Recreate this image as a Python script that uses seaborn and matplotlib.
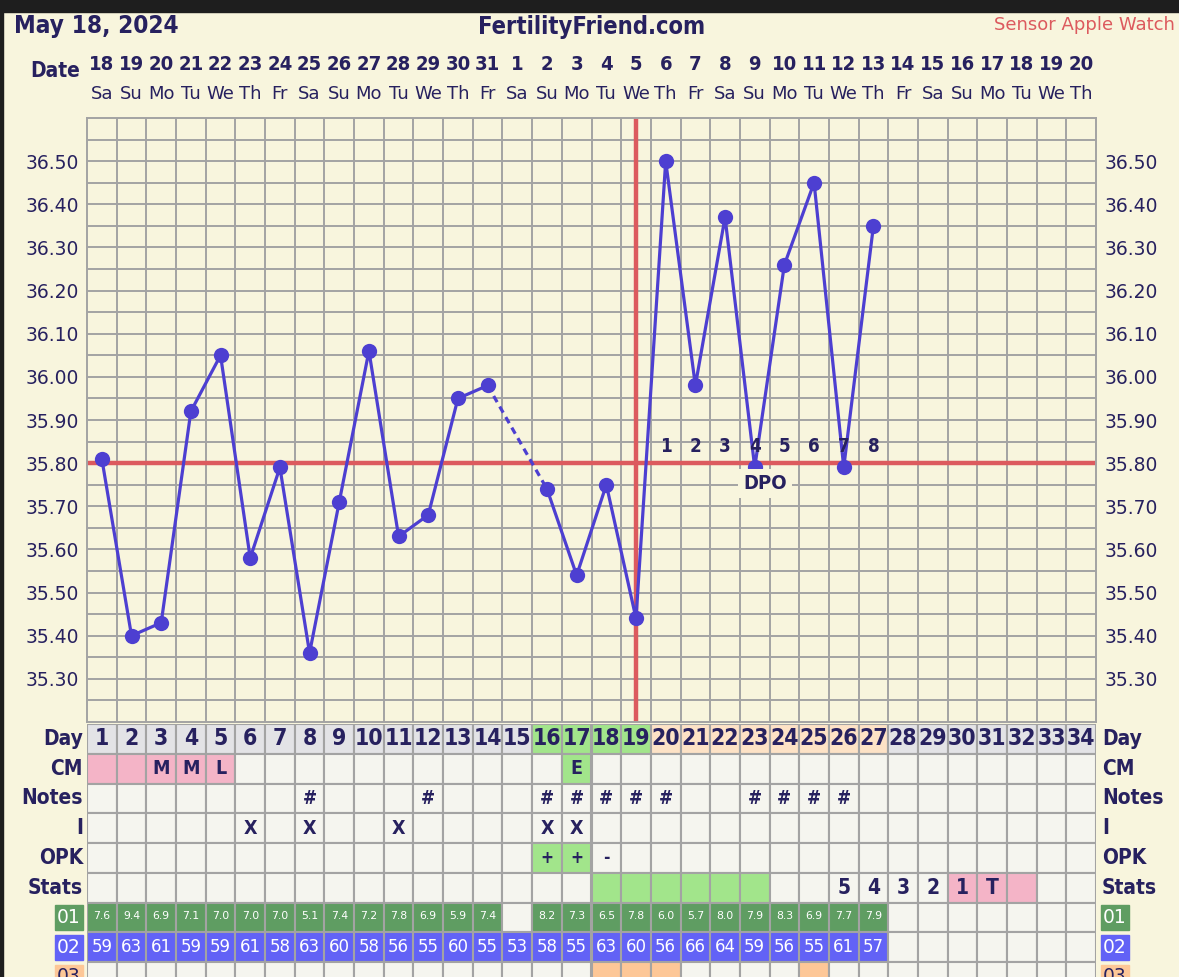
import numpy as np
import pandas as pd
import matplotlib
matplotlib.use("Agg")
import matplotlib.pyplot as plt
import seaborn as sns
from matplotlib import font_manager as fm
from matplotlib.transforms import blended_transform_factory
from matplotlib.patches import Rectangle

# ---------------- data ----------------
dates = [18, 19, 20, 21, 22, 23, 24, 25, 26, 27, 28, 29, 30, 31,
         1, 2, 3, 4, 5, 6, 7, 8, 9, 10, 11, 12, 13, 14, 15, 16, 17, 18, 19, 20]
weekdays = (["Sa", "Su", "Mo", "Tu", "We", "Th", "Fr"] * 5)[:34]
cycle_days = list(range(1, 35))
temp_days = list(range(1, 28))
temps = [35.81, 35.40, 35.43, 35.92, 36.05, 35.58, 35.79, 35.36, 35.71, 36.06,
         35.63, 35.68, 35.95, 35.98, np.nan, 35.74, 35.54, 35.75, 35.44, 36.50,
         35.98, 36.37, 35.79, 36.26, 36.45, 35.79, 36.35]
coverline = 35.80
ovulation_day = 19
dpo_days = [20, 21, 22, 23, 24, 25, 26, 27]
dpo_labels = ["1", "2", "3", "4", "5", "6", "7", "8"]
y_ticks = [35.30, 35.40, 35.50, 35.60, 35.70, 35.80, 35.90, 36.00, 36.10, 36.20, 36.30, 36.40, 36.50]

day_green = [16, 17, 18, 19]
day_peach = [20, 21, 22, 23, 24, 25, 26, 27]
cm_days = [3, 4, 5, 17]
cm_text = ["M", "M", "L", "E"]
cm_pink = [1, 2, 3, 4, 5]
cm_green = [17]
notes_days = [8, 12, 16, 17, 18, 19, 20, 23, 24, 25, 26]
intercourse_days = [6, 8, 11, 16, 17]
opk_days = [16, 17, 18]
opk_text = ["+", "+", "-"]
opk_green = [16, 17]
stats_days = [26, 27, 28, 29, 30, 31]
stats_text = ["5", "4", "3", "2", "1", "T"]
stats_green = [18, 19, 20, 21, 22, 23]
stats_pink = [30, 31, 32]
s01_days = [1, 2, 3, 4, 5, 6, 7, 8, 9, 10, 11, 12, 13, 14, 16, 17, 18, 19, 20,
            21, 22, 23, 24, 25, 26, 27]
s01_vals = ["7.6", "9.4", "6.9", "7.1", "7.0", "7.0", "7.0", "5.1", "7.4", "7.2",
            "7.8", "6.9", "5.9", "7.4", "8.2", "7.3", "6.5", "7.8", "6.0", "5.7",
            "8.0", "7.9", "8.3", "6.9", "7.7", "7.9"]
s02_days = list(range(1, 28))
s02_vals = [59, 63, 61, 59, 59, 61, 58, 63, 60, 58, 56, 55, 60, 55, 53, 58, 55,
            63, 60, 56, 66, 64, 59, 56, 55, 61, 57]
s03_peach = [18, 19, 20, 25]
row_labels = ["Day", "CM", "Notes", "I", "OPK", "Stats", "01", "02", "03"]

# ---------------- style ----------------
W, H = 1179, 977
CREAM = "#f8f5dd"
NAVY = "#27215f"
GRIDC = "#a3a3a3"
LINEC = "#4d3fd1"
RED = "#dc5a5e"
CELL = "#f5f5ef"
DAYGRAY = "#e3e3e6"
LGREEN = "#a2e58b"
PEACH = "#fde2c6"
PINK = "#f4b4c7"
G01 = "#5f9d62"
B02 = "#6262f6"
P03 = "#fdc797"

sns.set_theme(style="white")
plt.rcParams["font.family"] = ["DejaVu Sans"]


def pick_cond():
    for f in fm.fontManager.ttflist:
        if f.name == "DejaVu Sans" and f.stretch in ("condensed", "semi-condensed") and f.weight in ("bold", 700):
            return dict(family="DejaVu Sans", stretch="condensed", weight="bold"), 1.0
    names = {f.name for f in fm.fontManager.ttflist}
    if "Liberation Sans Narrow" in names:
        return dict(family="Liberation Sans Narrow", weight="bold"), 1.08
    return dict(family="DejaVu Sans", weight="bold"), 0.9


COND, CSCALE = pick_cond()


def cfont(size):
    d = dict(COND)
    d["size"] = size * CSCALE
    return d


fig = plt.figure(figsize=(W / 100, H / 100), dpi=100, facecolor=CREAM)


def fx(px):
    return px / W


def fy(py):
    return 1 - py / H


# dark border of the screenshot
fig.add_artist(Rectangle((0, fy(12)), 1, 12 / H, transform=fig.transFigure, color="#1e1e1e", zorder=0))
fig.add_artist(Rectangle((0, 0), 3 / W, 1, transform=fig.transFigure, color="#1e1e1e", zorder=0))

# ---------------- temperature chart ----------------
L, R = 87, 1096
ax = fig.add_axes([fx(L), fy(722), (R - L) / W, (722 - 118) / H])
ax.set_facecolor(CREAM)
ax.set_xlim(0.5, 34.5)
ax.set_ylim(35.20, 36.60)

ax.set_xticks([])
ax.set_xticks(np.arange(1.5, 34.5, 1.0), minor=True)
ax.set_yticks(y_ticks)
ax.set_yticks(np.arange(35.25, 36.6, 0.1), minor=True)
ax.set_yticklabels([f"{v:.2f}" for v in y_ticks])
ax.grid(True, which="both", color=GRIDC, linewidth=1.4)
ax.tick_params(axis="y", which="both", length=0, labelsize=13.5, labelcolor=NAVY,
               left=False, right=False, labelleft=True, labelright=True, pad=6)
ax.tick_params(axis="x", which="both", length=0)
for s in ax.spines.values():
    s.set_color(GRIDC)
    s.set_linewidth(1.4)
ax.set_axisbelow(True)

df = pd.DataFrame({"day": temp_days, "temp": temps})
seg1 = df[df["day"] <= 14]
seg2 = df[df["day"] >= 16]
gap = df[df["day"].isin([14, 16])]

ax.axhline(coverline, color=RED, linewidth=3.2, zorder=2.5)
ax.axvline(ovulation_day, color=RED, linewidth=3.2, zorder=2.5)

for seg in (seg1, seg2):
    sns.lineplot(data=seg, x="day", y="temp", ax=ax, color=LINEC, linewidth=2.3,
                 marker="o", markersize=11, markeredgewidth=0, zorder=3)
n_before = len(ax.lines)
sns.lineplot(data=gap, x="day", y="temp", ax=ax, color=LINEC, linewidth=2.3, zorder=3)
for ln in ax.lines[n_before:]:
    ln.set_dashes([2.2, 1.6])
ax.set_xlabel("")
ax.set_ylabel("")

for d, lab in zip(dpo_days, dpo_labels):
    ax.text(d, 35.838, lab, ha="center", va="center", color=NAVY, zorder=4, **cfont(13.5))
ax.text(23.35, 35.752, "DPO", ha="center", va="center", color=NAVY, zorder=4,
        bbox=dict(boxstyle="square,pad=0.25", fc=CREAM, ec="none"), **cfont(14.5))

# header
tr_top = blended_transform_factory(ax.transData, fig.transFigure)
for d, dt, wd in zip(cycle_days, dates, weekdays):
    ax.text(d, fy(65), str(dt), transform=tr_top, ha="center", va="center",
            color=NAVY, clip_on=False, **cfont(14.5))
    ax.text(d, fy(94), wd, transform=tr_top, ha="center", va="center",
            color=NAVY, fontsize=13, clip_on=False)
fig.text(fx(80), fy(71), "Date", ha="right", va="center", color=NAVY, **cfont(15))
fig.text(fx(14), fy(26), "May 18, 2024", ha="left", va="center", color=NAVY, **cfont(17.5))
fig.text(fx(592), fy(27), "FertilityFriend.com", ha="center", va="center", color=NAVY, **cfont(17))
fig.text(fx(1175), fy(25), "Sensor Apple Watch", ha="right", va="center", color=RED, fontsize=13)

# ---------------- table ----------------
TT = 724
nrows_vis = (H - TT) / 29.75
axt = fig.add_axes([fx(L), 0, (R - L) / W, (H - TT) / H])
axt.set_xlim(0.5, 34.5)
axt.set_ylim(nrows_vis, 0)
axt.axis("off")


def row_colors(default, mapping):
    cols = []
    for d in cycle_days:
        c = default
        for days, col in mapping:
            if d in days:
                c = col
        cols.append(c)
    return cols


rows_fill = [
    row_colors(DAYGRAY, [(day_green, LGREEN), (day_peach, PEACH)]),
    row_colors(CELL, [(cm_pink, PINK), (cm_green, LGREEN)]),
    row_colors(CELL, []),
    row_colors(CELL, []),
    row_colors(CELL, [(opk_green, LGREEN)]),
    row_colors(CELL, [(stats_green, LGREEN), (stats_pink, PINK)]),
    row_colors(CELL, [(s01_days, G01)]),
    row_colors(CELL, [(s02_days, B02)]),
    row_colors(CELL, [(s03_peach, P03)]),
]
for r, cols in enumerate(rows_fill):
    axt.bar(cycle_days, [1] * 34, bottom=r, width=1, color=cols, edgecolor=GRIDC,
            linewidth=1.5, align="center")


def put(row, days, texts, size, color=NAVY, cond=True, dy=0.0):
    for d, t in zip(days, texts):
        if cond:
            axt.text(d, row + 0.5 + dy, t, ha="center", va="center", color=color, **cfont(size))
        else:
            axt.text(d, row + 0.5 + dy, t, ha="center", va="center", color=color, fontsize=size)


put(0, cycle_days, [str(d) for d in cycle_days], 16.5)
put(1, cm_days, cm_text, 14)
put(2, notes_days, ["#"] * len(notes_days), 13.5)
put(3, intercourse_days, ["X"] * len(intercourse_days), 14)
put(4, opk_days, opk_text, 12.5)
put(5, stats_days, stats_text, 15)
put(6, s01_days, s01_vals, 7.8, color="white", cond=False, dy=-0.05)
put(7, s02_days, [str(v) for v in s02_vals], 12, color="white", cond=False)

trl = blended_transform_factory(fig.transFigure, axt.transData)
for r, lab in enumerate(row_labels):
    if r < 6:
        axt.text(fx(83), r + 0.5, lab, transform=trl, ha="right", va="center",
                 color=NAVY, clip_on=False, **cfont(15))
        axt.text(fx(1102), r + 0.5, lab, transform=trl, ha="left", va="center",
                 color=NAVY, clip_on=False, **cfont(15))
    else:
        bc = [G01, B02, P03][r - 6]
        tc = "white" if r < 8 else NAVY
        for x0 in (55, 1101):
            axt.add_patch(Rectangle((fx(x0), r + 0.1), 28 / W, 0.82, transform=trl,
                                    color=bc, clip_on=False))
            axt.text(fx(x0 + 14), r + 0.5, lab, transform=trl, ha="center", va="center",
                     color=tc, fontsize=13.5, clip_on=False)

fig.savefig("out.png", dpi=100, facecolor=CREAM)
